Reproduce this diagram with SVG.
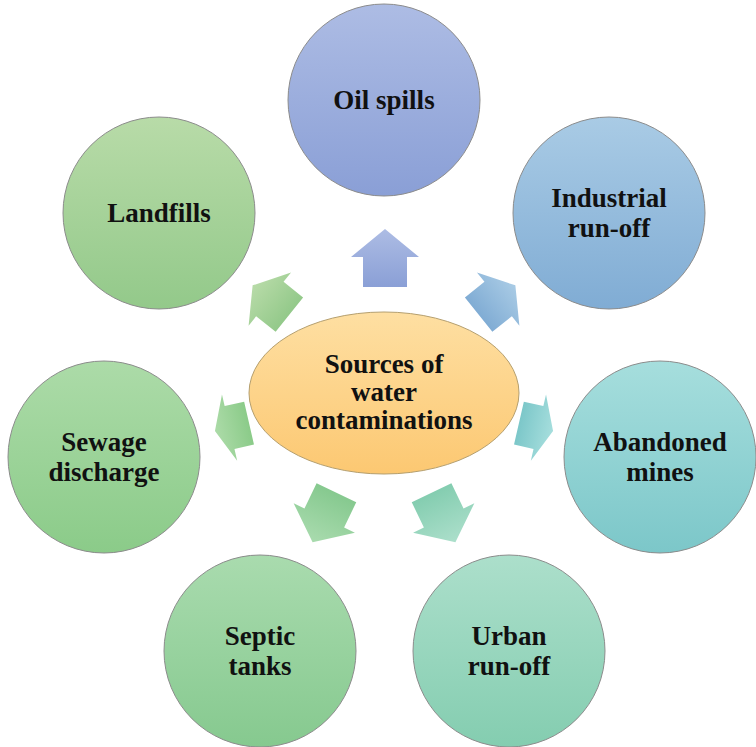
<svg xmlns="http://www.w3.org/2000/svg" width="756" height="747" viewBox="0 0 756 747">
<defs>
<style>
.node circle{stroke:#8c8c8c;stroke-width:1}
text{font-family:'Liberation Serif','Times New Roman','DejaVu Serif',serif;font-weight:700;font-size:27px;fill:#111111;text-anchor:middle}
</style>
<linearGradient id="gOil" x1="0" y1="0" x2="0" y2="1"><stop offset="0" stop-color="#adbce4"/><stop offset="1" stop-color="#8a9fd6"/></linearGradient>
<linearGradient id="gInd" x1="0" y1="0" x2="0" y2="1"><stop offset="0" stop-color="#a9cbe5"/><stop offset="1" stop-color="#80acd4"/></linearGradient>
<linearGradient id="gAba" x1="0" y1="0" x2="0" y2="1"><stop offset="0" stop-color="#a6dedd"/><stop offset="1" stop-color="#7cc7c9"/></linearGradient>
<linearGradient id="gUrb" x1="0" y1="0" x2="0" y2="1"><stop offset="0" stop-color="#acdfcb"/><stop offset="1" stop-color="#84cdb0"/></linearGradient>
<linearGradient id="gSep" x1="0" y1="0" x2="0" y2="1"><stop offset="0" stop-color="#a9dbae"/><stop offset="1" stop-color="#86c98f"/></linearGradient>
<linearGradient id="gSew" x1="0" y1="0" x2="0" y2="1"><stop offset="0" stop-color="#acdba8"/><stop offset="1" stop-color="#8bcb89"/></linearGradient>
<linearGradient id="gLan" x1="0" y1="0" x2="0" y2="1"><stop offset="0" stop-color="#b8dba8"/><stop offset="1" stop-color="#93c98a"/></linearGradient>
<linearGradient id="gCen" x1="0" y1="0" x2="0" y2="1"><stop offset="0" stop-color="#fedfa2"/><stop offset="1" stop-color="#fcc872"/></linearGradient>
</defs>
<rect width="756" height="747" fill="#ffffff"/>

<g id="connectors">
<path id="a-oil" transform="translate(385,258)" fill="url(#gOil)" d="M0,-29 L34,-1 L22,-1 L22,29 L-22,29 L-22,-1 L-34,-1 Z"/>
<path id="a-ind" transform="translate(497,300) rotate(51.4)" fill="url(#gInd)" d="M0,-23.5 L34,-1.5 L22,-1.5 L22,23.5 L-22,23.5 L-22,-1.5 L-34,-1.5 Z"/>
<path id="a-aba" transform="translate(536,427) rotate(102.9)" fill="url(#gAba)" d="M0,-17.5 L34,-2.5 L22,-2.5 L22,17.5 L-22,17.5 L-22,-2.5 L-34,-2.5 Z"/>
<path id="a-urb" transform="translate(443.5,517.5) rotate(154.3)" fill="url(#gUrb)" d="M0,-27.5 L34,-0.5 L22,-0.5 L22,27.5 L-22,27.5 L-22,-0.5 L-34,-0.5 Z"/>
<path id="a-sep" transform="translate(324.5,517.5) rotate(-154.3)" fill="url(#gSep)" d="M0,-27.5 L34,-0.5 L22,-0.5 L22,27.5 L-22,27.5 L-22,-0.5 L-34,-0.5 Z"/>
<path id="a-sew" transform="translate(232,427) rotate(-102.9)" fill="url(#gSew)" d="M0,-17.5 L34,-2.5 L22,-2.5 L22,17.5 L-22,17.5 L-22,-2.5 L-34,-2.5 Z"/>
<path id="a-lan" transform="translate(271,300) rotate(-51.4)" fill="url(#gLan)" d="M0,-23.5 L34,-1.5 L22,-1.5 L22,23.5 L-22,23.5 L-22,-1.5 L-34,-1.5 Z"/>
</g>

<g id="center">
<ellipse cx="384" cy="393" rx="135" ry="81" fill="url(#gCen)" stroke="#b59f6e" stroke-width="1"/>
<text x="384" y="373">Sources of</text>
<text x="384" y="401">water</text>
<text x="384" y="429">contaminations</text>
</g>

<g id="oil" class="node">
<circle cx="384" cy="100" r="96" fill="url(#gOil)"/>
<text x="384" y="109">Oil spills</text>
</g>
<g id="industrial" class="node">
<circle cx="609" cy="213" r="96" fill="url(#gInd)"/>
<text x="609" y="207">Industrial</text>
<text x="609" y="237">run-off</text>
</g>
<g id="abandoned" class="node">
<circle cx="660" cy="457" r="96" fill="url(#gAba)"/>
<text x="660" y="451">Abandoned</text>
<text x="660" y="481">mines</text>
</g>
<g id="urban" class="node">
<circle cx="509" cy="651" r="96" fill="url(#gUrb)"/>
<text x="509" y="645">Urban</text>
<text x="509" y="675">run-off</text>
</g>
<g id="septic" class="node">
<circle cx="260" cy="651" r="96" fill="url(#gSep)"/>
<text x="260" y="645">Septic</text>
<text x="260" y="675">tanks</text>
</g>
<g id="sewage" class="node">
<circle cx="104" cy="457" r="96" fill="url(#gSew)"/>
<text x="104" y="451">Sewage</text>
<text x="104" y="481">discharge</text>
</g>
<g id="landfills" class="node">
<circle cx="159" cy="213" r="96" fill="url(#gLan)"/>
<text x="159" y="222">Landfills</text>
</g>
</svg>
